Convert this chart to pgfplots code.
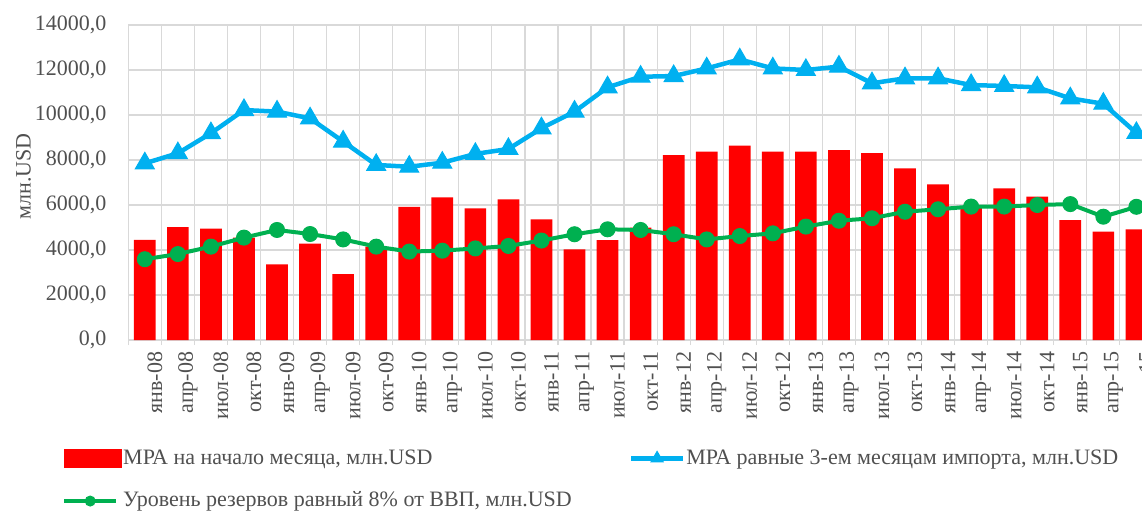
\documentclass[border=0pt]{standalone}
\usepackage{fontspec}
\setmainfont{Liberation Serif}
\usepackage{pgfplots}
\usepackage{pgfplotstable}
\pgfplotsset{compat=1.18}
\definecolor{barred}{HTML}{FF0000}
\definecolor{lineblue}{HTML}{00B0F0}
\definecolor{linegreen}{HTML}{00B050}
\definecolor{gridgrey}{HTML}{D9D9D9}
\definecolor{textgrey}{HTML}{505050}

\pgfplotsset{
    barlegend/.style={legend image code/.code={%
        \fill[barred] (0pt,-9.5pt) rectangle (58pt,9.5pt);}},
    linelegend/.style={legend image code/.code={%
        \draw[##1] (0pt,0pt) -- (52pt,0pt);
        \draw[##1, mark size=#1] plot coordinates {(26pt,0pt)};}},
}

% quarterly values, mln USD
\pgfplotstableread{
idx mpa imp gdp
0  4450  7850 3590
1  5020  8300 3820
2  4950  9190 4150
3  4550 10220 4550
4  3360 10150 4890
5  4280  9850 4710
6  2930  8820 4470
7  4150  7780 4150
8  5920  7700 3930
9  6340  7880 3970
10 5850  8270 4070
11 6250  8490 4180
12 5360  9410 4420
13 4030 10150 4700
14 4440 11230 4920
15 4990 11700 4890
16 8220 11730 4700
17 8370 12070 4470
18 8640 12470 4620
19 8370 12070 4740
20 8370 12000 5040
21 8440 12150 5300
22 8300 11410 5410
23 7630 11630 5700
24 6920 11630 5810
25 5900 11330 5930
26 6740 11290 5930
27 6370 11230 6000
28 5330 10740 6040
29 4820 10500 5480
30 4920  9200 5920
}\datatable

\begin{document}
\fontsize{22}{24}\selectfont
\begin{tikzpicture}
\useasboundingbox (0pt,0pt) rectangle (1142pt,514pt);
\begin{axis}[
    at={(128.3pt,174pt)}, anchor=south west,
    scale only axis,
    width=1013.7pt, height=315pt,
    xmin=-0.5, xmax=30.17,
    ymin=0, ymax=14000,
    ytick={0,2000,...,14000},
    scaled y ticks=false,
    xtick={0,...,30},
    xticklabels={янв-08,апр-08,июл-08,окт-08,янв-09,апр-09,июл-09,окт-09,
                 янв-10,апр-10,июл-10,окт-10,янв-11,апр-11,июл-11,окт-11,
                 янв-12,апр-12,июл-12,окт-12,янв-13,апр-13,июл-13,окт-13,
                 янв-14,апр-14,июл-14,окт-14,янв-15,апр-15,июл-15},
    minor xtick={-0.5,0.5,...,30.5},
    axis line style={draw=none},
    xtick style={draw=none}, ytick style={draw=none},
    minor x tick style={draw=gridgrey, line width=1.2pt},
    minor tick length=5pt, tick align=outside, xtick pos=left,
    ymajorgrids, xminorgrids,
    major grid style={gridgrey, line width=1.2pt},
    minor grid style={gridgrey, line width=1.2pt},
    ticklabel style={text=textgrey, font=\fontsize{22}{24}\selectfont},
    yticklabel style={xshift=-10pt, /pgf/number format/fixed,
        /pgf/number format/fixed zerofill, /pgf/number format/precision=1,
        /pgf/number format/use comma, /pgf/number format/1000 sep={},
        /pgf/number format/assume math mode=true},
    xticklabel style={rotate=90, anchor=east, yshift=-10pt},
    ylabel={млн.USD},
    ylabel style={at={(axis description cs:-0.1034,0.52)}, anchor=center,
        text=textgrey, font=\fontsize{22}{24}\selectfont},
    legend columns=2,
    legend cell align=left,
    legend style={at={(axis description cs:-0.0654,-0.345)}, anchor=north west,
        draw=none, fill=none, inner sep=0pt, row sep=24pt,
        text=textgrey, font=\fontsize{22}{24}\selectfont,
        nodes={inner xsep=1pt, inner ysep=0pt},
        /tikz/every even column/.append style={column sep=56pt}},
]
\addplot[ybar, bar width=21.7pt, fill=barred, draw=none, barlegend]
    table[x=idx, y=mpa] {\datatable};
\addlegendentry{МРА на начало месяца, млн.USD}
\addplot[lineblue, line width=4.5pt, mark=triangle*, mark size=11pt,
    mark options={line width=1pt}, linelegend=7pt]
    table[x=idx, y=imp] {\datatable};
\addlegendentry{МРА равные 3-ем месяцам импорта, млн.USD}
\addplot[linegreen, line width=4pt, mark=*, mark size=7.5pt,
    mark options={line width=1pt}, linelegend=5pt]
    table[x=idx, y=gdp] {\datatable};
\addlegendentry{Уровень резервов равный 8\% от ВВП, млн.USD}
\end{axis}
\end{tikzpicture}
\end{document}
